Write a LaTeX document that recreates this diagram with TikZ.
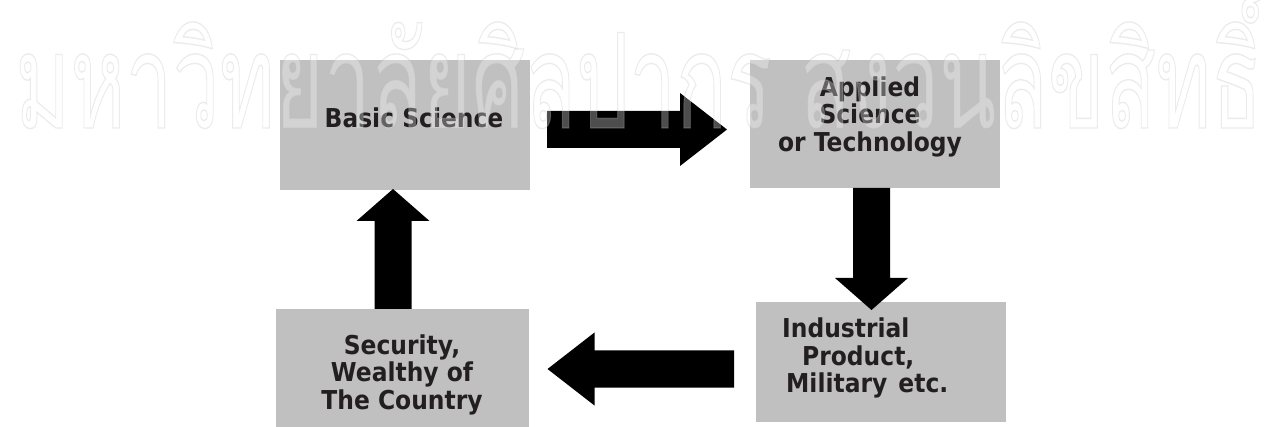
\documentclass[tikz,border=0pt]{standalone}
\usepackage{fontspec}
\usepackage{graphicx}
\usetikzlibrary{calc}
\newfontfamily\labelfont{DejaVu Sans}[FakeStretch=0.9]
\newfontfamily\thaifont[Script=Thai]{Loma}
\definecolor{boxgray}{HTML}{C0C0C0}
\definecolor{ink}{HTML}{231F20}

% thick block arrow from #1 (tail) to #2 (tip), head length #3
\newcommand\blockarrow[3]{%
  \coordinate (hb) at ($(#2)!#3!(#1)$);
  \fill[arrowfill] ($(#1)!18.5pt!90:(#2)$) -- ($(hb)!18.5pt!90:(#2)$)
    -- ($(hb)!36.5pt!90:(#2)$) -- (#2) -- ($(hb)!36.5pt!-90:(#2)$)
    -- ($(hb)!18.5pt!-90:(#2)$) -- ($(#1)!18.5pt!-90:(#2)$) -- cycle;}

\begin{document}
\begin{tikzpicture}[x=1pt,y=-1pt,
  box/.style={rectangle, fill=boxgray, draw=none, inner sep=0pt},
  lbl/.style={text=ink, font=\labelfont\bfseries\fontsize{26}{27.5}\selectfont,
              inner sep=0pt, align=center},
  arrowfill/.style={fill=black},
  mark text/.style={inner sep=0pt, text opacity=0.3}]
\useasboundingbox (0,0) rectangle (1274,427);

% the four stages
\node[box, minimum width=250pt, minimum height=130pt] (basic)      at (405,125)   {};
\node[box, minimum width=250pt, minimum height=128pt] (applied)    at (875,124)   {};
\node[box, minimum width=253pt, minimum height=118pt] (security)   at (402.5,368) {};
\node[box, minimum width=250pt, minimum height=120pt] (industrial) at (881,362)   {};

% arrow ends
\coordinate (r0) at (547,129.5);  \coordinate (r1) at (727,129.5);
\coordinate (d0) at (871.5,188);  \coordinate (d1) at (871.5,310);
\coordinate (l0) at (734,369);    \coordinate (l1) at (547.5,369);
\coordinate (u0) at (393,309);    \coordinate (u1) at (393,189);

\blockarrow{r0}{r1}{47pt}
\blockarrow{d0}{d1}{32pt}
\blockarrow{l0}{l1}{47pt}
\blockarrow{u0}{u1}{32pt}

% labels
\node[lbl, anchor=base] (basictxt) at (414,128) {Basic Science};
\node[lbl] (appliedtxt)  at (870,116.7) {Applied\\Science\\or Technology};
\node[lbl] (securitytxt) at (402,374.7) {Security,\\Wealthy of\\The Country};
\node[lbl, align=left, anchor=north west] (industrialtxt) at (782,318)
  {Industrial\\\hspace*{20pt}Product,\\\hspace*{4pt}Military\ \hspace{3pt}etc.};

% outlined university mark across the top
\node[mark text, anchor=base west] (mark) at (15,128)
  {\resizebox{1247pt}{140pt}{\thaifont\fontsize{135}{140}\selectfont
   \special{pdf:literal direct 2 Tr 1.4 w 1 g 0.74 G}%
   มหาวิทยาลัยศิลปากร สงวนลิขสิทธิ์%
   \special{pdf:literal direct 0 Tr}}};
\end{tikzpicture}
\end{document}
